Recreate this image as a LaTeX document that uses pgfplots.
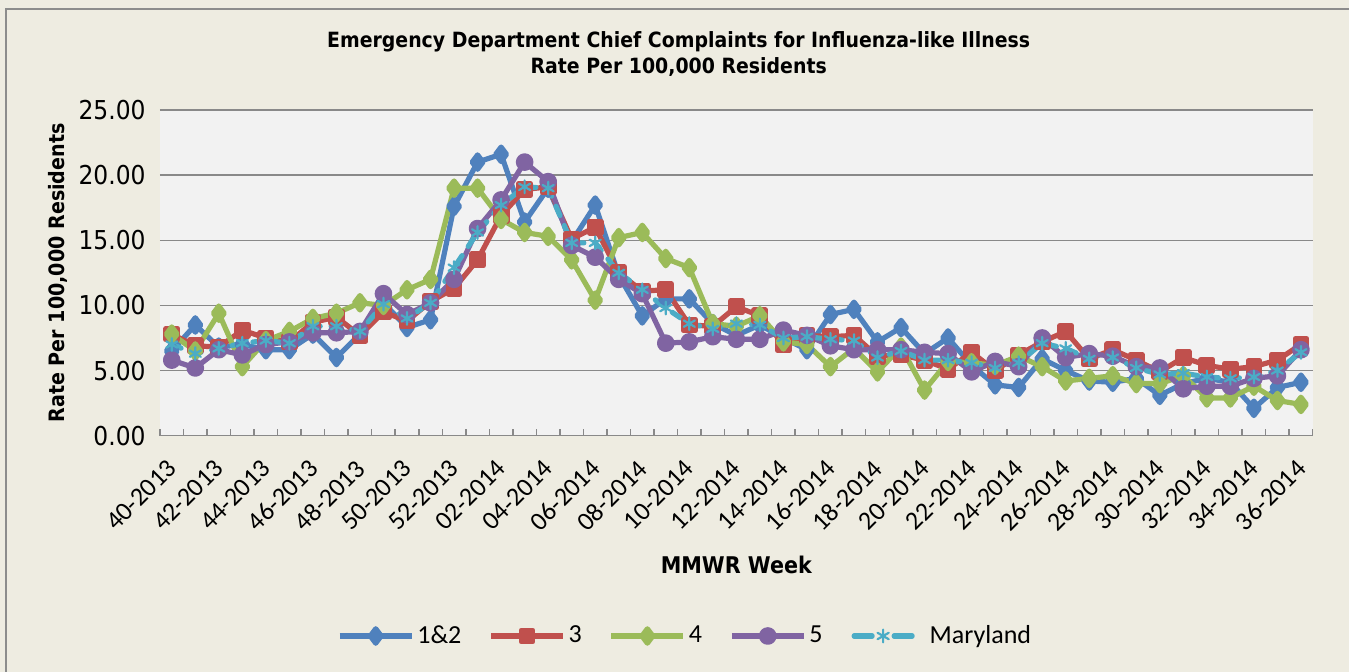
\documentclass[border=0pt]{standalone}
\usepackage{fontspec}
\setmainfont{Carlito}
\newfontfamily\tahoma[FakeStretch=0.9]{DejaVu Sans}
\usepackage{pgfplots}
\pgfplotsset{compat=1.18}
\usepackage{pgfplotstable}
\definecolor{chartbg}{HTML}{EEECE1}
\definecolor{plotbg}{HTML}{F2F2F2}
\definecolor{gridgray}{HTML}{898989}
\definecolor{framegray}{HTML}{8C8C8C}
\definecolor{cblue}{HTML}{4F81BD}
\definecolor{cred}{HTML}{C0504D}
\definecolor{cgreen}{HTML}{9BBB59}
\definecolor{cpurple}{HTML}{8064A2}
\definecolor{ccyan}{HTML}{4BACC6}
\pgfplotsset{mdlegend/.style={legend image code/.code={%
    \draw[##1, solid, mark=none] (1pt,0pt) -- (10pt,0pt);
    \draw[##1, solid, mark=none] (21pt,0pt) -- (30pt,0pt);
    \draw[##1, mark repeat=1] plot coordinates {(15.5pt,0pt)};
    \path (0pt,0pt) (36pt,0pt);}}}
\pgfplotstableread{
x b r g p m
0 6.5 7.8 7.8 5.8 7.0
1 8.5 6.9 6.5 5.2 6.3
2 6.8 6.8 9.4 6.6 6.7
3 7.0 8.1 5.3 6.2 7.1
4 6.6 7.5 7.3 7.0 7.3
5 6.6 7.2 8.0 7.2 7.1
6 7.8 8.7 9.0 7.9 8.4
7 6.0 9.1 9.4 7.9 8.4
8 7.8 7.7 10.2 8.0 8.0
9 10.2 9.5 10.0 10.9 10.1
10 8.3 8.8 11.2 9.3 9.0
11 8.9 10.3 12.0 10.2 10.2
12 17.6 11.3 19.0 12.0 12.9
13 21.0 13.5 19.0 15.9 15.6
14 21.6 16.9 16.6 18.1 17.7
15 16.4 18.9 15.6 21.0 19.1
16 19.0 19.1 15.3 19.5 19.0
17 14.9 15.1 13.5 14.6 14.8
18 17.7 16.0 10.4 13.7 14.8
19 12.3 12.5 15.2 12.0 12.5
20 9.2 11.1 15.6 10.9 11.2
21 10.5 11.2 13.6 7.1 9.8
22 10.5 8.5 12.9 7.2 8.6
23 8.6 8.4 8.6 7.6 8.2
24 7.7 9.9 8.4 7.4 8.6
25 8.5 9.2 9.2 7.4 8.5
26 7.5 7.0 7.2 8.1 7.5
27 6.6 7.7 7.0 7.7 7.6
28 9.3 7.6 5.3 6.9 7.4
29 9.7 7.7 6.7 6.6 7.3
30 7.2 6.1 4.9 6.6 6.0
31 8.3 6.2 6.8 6.6 6.5
32 6.3 5.8 3.5 6.4 5.8
33 7.5 5.1 5.7 6.3 5.8
34 5.4 6.4 5.6 4.9 5.6
35 3.9 5.0 5.4 5.7 5.2
36 3.7 6.2 6.1 5.3 5.6
37 5.9 7.2 5.3 7.5 7.1
38 5.0 8.0 4.2 6.0 6.7
39 4.2 5.9 4.4 6.3 5.9
40 4.1 6.6 4.6 6.1 6.0
41 4.4 5.8 4.0 5.3 5.2
42 3.1 4.9 4.0 5.2 4.7
43 4.0 6.0 4.6 3.6 4.8
44 4.4 5.4 2.9 3.8 4.5
45 4.1 5.1 2.9 3.8 4.4
46 2.1 5.3 3.8 4.4 4.5
47 3.7 5.8 2.7 4.6 5.0
48 4.1 7.0 2.4 6.6 6.4
}\datatable
\begin{document}
\begin{tikzpicture}
\fill[chartbg] (0,0) rectangle (674.5pt,336pt);
\path[use as bounding box] (0,0) rectangle (674.5pt,336pt);
\draw[framegray, line width=0.75pt] (3pt,0) -- (3pt,331.5pt) -- (674.5pt,331.5pt);
\begin{axis}[
  at={(80pt,118.15pt)}, anchor=south west,
  scale only axis, width=576.35pt, height=162.85pt,
  axis background/.style={fill=plotbg},
  xmin=-0.5, xmax=48.5, ymin=0, ymax=25,
  axis x line*=bottom, axis y line*=left,
  y axis line style={draw=none},
  x axis line style={draw=gridgray, line width=0.75pt},
  ytick={0,5,10,15,20,25},
  ytick style={draw=none},
  ymajorgrids, grid style={draw=gridgray, line width=0.75pt},
  /pgf/number format/fixed, /pgf/number format/fixed zerofill,
  /pgf/number format/precision=2,
  /pgf/number format/assume math mode=true,
  yticklabel style={font=\tahoma\fontsize{13}{15}\selectfont, inner sep=0pt, xshift=-7pt},
  xtick={0,2,...,48},
  xticklabels={40-2013,42-2013,44-2013,46-2013,48-2013,50-2013,52-2013,02-2014,04-2014,06-2014,08-2014,10-2014,12-2014,14-2014,16-2014,18-2014,20-2014,22-2014,24-2014,26-2014,28-2014,30-2014,32-2014,34-2014,36-2014},
  xtick style={draw=none},
  minor xtick={-0.5,0.5,...,48.5},
  tick align=inside,
  minor tick length=3.5pt,
  minor x tick style={draw=gridgray, line width=0.75pt},
  xticklabel style={font=\fontsize{13}{15}\selectfont, xshift=-3pt, yshift=-11pt, rotate=45, anchor=north east, inner sep=0pt},
  title={Emergency Department Chief Complaints for Influenza-like Illness\\Rate Per 100,000 Residents},
  title style={at={(axis description cs:0.45,1.135)}, anchor=center, align=center, font=\tahoma\bfseries\fontsize{10.5}{13}\selectfont},
  xlabel={MMWR Week},
  xlabel style={at={(axis description cs:0.5,-0.397)}, anchor=center, font=\tahoma\bfseries\fontsize{11.5}{13}\selectfont},
  ylabel={Rate Per 100,000 Residents},
  ylabel style={at={(axis description cs:-0.0885,0.5)}, anchor=center, rotate=0, font=\tahoma\bfseries\fontsize{10.6}{13}\selectfont},
  legend style={at={(axis description cs:0.456,-0.615)}, anchor=center, draw=none, fill=none, legend columns=-1,
    font=\fontsize{13}{15}\selectfont, /tikz/every even column/.append style={column sep=12pt},
    nodes={inner sep=1.5pt}},
  legend image code/.code={\draw[mark repeat=2,mark phase=2,#1] plot coordinates {(0pt,0pt) (18pt,0pt) (36pt,0pt)};},
  every axis plot/.append style={line width=2.6pt, line join=round},
]
\addplot[cblue, mark=diamond*, mark size=3.6pt, mark options={solid}] table[x=x,y=b] {\datatable};
\addlegendentry{1\&2}
\addplot[cred, mark=square*, mark size=2.9pt, mark options={solid}] table[x=x,y=r] {\datatable};
\addlegendentry{3}
\addplot[cgreen, mark=diamond*, mark size=3.6pt, mark options={solid}] table[x=x,y=g] {\datatable};
\addlegendentry{4}
\addplot[cpurple, mark=*, mark size=3.1pt, mark options={solid}] table[x=x,y=p] {\datatable};
\addlegendentry{5}
\addplot[ccyan, line cap=round, dash pattern=on 5pt off 5.5pt, mark=asterisk, mark size=3.2pt, mark options={solid, line width=1.1pt}, mdlegend] table[x=x,y=m] {\datatable};
\addlegendentry{Maryland}
\end{axis}
\end{tikzpicture}
\end{document}
